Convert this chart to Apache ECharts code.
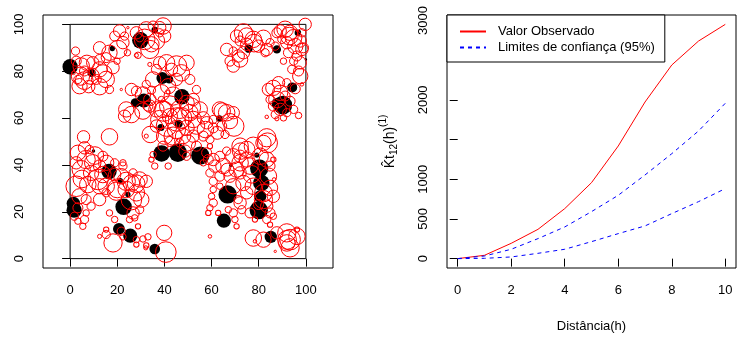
<!DOCTYPE html>
<html><head><meta charset="utf-8">
<script src="https://cdn.jsdelivr.net/npm/echarts@6/dist/echarts.min.js"></script>
<style>html,body{margin:0;padding:0;background:#fff}#c{width:737px;height:342px}</style>
</head><body><div id="c"></div>
<script>
// Left panel: points [x, y, radius] (radius in data units, before SIZE_SCALE correction)
const blackPoints = [
[0,81.9,2.6],[9.1,79.3,1.4],[17.9,89.7,0.9],[29.8,93.2,2.8],[35.9,97.6,1.1],[39.1,77.1,2.0],[42.0,76.5,1.4],
[31.3,67.5,2.4],[27.7,66.5,1.6],[47.4,69.1,2.6],[38.5,56.0,1.2],[46.0,57.5,1.4],[38.8,44.9,2.8],[45.7,45.2,3.1],
[55.2,44.0,3.1],[63.3,59.8,1.1],[66.8,27.4,3.1],[65.2,16.2,2.4],[80.2,38.5,3.1],[81.1,32.3,2.8],[80.0,20.7,3.1],
[85.1,9.3,2.1],[80.6,26.6,2.1],[94.2,73.1,1.7],[90.2,65.5,3.2],[87.9,66.2,2.0],[87.7,89.3,1.4],[75.7,89.6,1.4],
[96.6,96.4,1.1],[1.4,23.5,2.3],[1.7,20.7,2.6],[16.5,37.2,2.6],[22.7,22.1,2.8],[20.7,12.7,2.0],[25.5,9.8,2.4],
[35.9,4.1,1.8],[21.3,33.3,0.9],[24.5,27.4,0.9],[9.9,45.9,0.6],[79.2,44.2,0.9],[68.2,39.9,0.6],[100,85,0.4]
];
const redPoints = [
// top-left cluster
[2.3,88.6,1.4],[2.6,84.3,1.7],[4.7,82.2,2.8],[7.1,83.6,2.6],[9.6,83.6,2.1],[4.4,77.9,3.1],[8.9,77.9,2.8],
[12.5,80.8,2.6],[15.3,76.5,2.8],[4.0,73.6,2.6],[7.9,73.4,2.1],[12.5,73.4,2.8],[3.3,76.5,1.4],[6.1,80.1,1.7],
[12.5,85.0,1.7],[15.3,85.8,1.7],[18.2,81.5,2.1],[16.7,87.9,2.6],[20.3,89.3,3.1],[22.4,92.2,2.1],[12.5,90.0,2.1],
[18.9,95.0,1.7],[21.0,97.2,2.1],[23.1,95.0,1.4],[24.5,98.6,0.4],[24.3,87.9,1.1],[28.8,86.8,1.1],[19.9,84.3,1.1],
[1.4,79.3,0.6],[11.1,76.5,1.7],[16.7,72.2,1.4],[6.0,76.0,3.0],[14.0,79.0,3.0],
// top cluster
[28.1,96.4,2.1],[32.3,97.9,2.6],[35.2,99.3,1.7],[38.0,98.6,2.1],[39.4,99.3,2.8],[31.6,93.6,3.5],[34.5,91.5,2.6],
[36.6,92.9,2.8],[33.8,89.3,3.1],[40.1,95.0,2.1],[38.0,96.4,1.4],[29.5,94.3,1.4],[28.1,86.8,0.7],
// upper-centre cluster
[38.0,83.6,2.1],[40.9,83.6,2.8],[45.1,82.2,3.5],[49.4,83.6,2.6],[47.2,79.3,2.8],[43.0,80.8,2.1],[36.6,80.8,1.7],
[35.2,76.5,2.6],[41.6,73.6,2.6],[45.1,76.5,2.1],[50.8,76.5,1.7],[38.7,70.8,2.8],[43.7,69.4,3.1],[49.4,66.5,2.6],
[52.2,67.9,2.1],[53.6,72.2,1.4],[34.5,71.9,1.4],[30.9,70.1,2.6],[28.1,71.5,1.7],[26.0,72.2,2.1],[32.3,74.4,1.4],
[33.8,67.9,2.1],[21.7,72.2,0.4],[23.8,63.7,2.6],[26.0,61.5,2.8],[23.1,60.8,2.1],[30.9,63.0,2.8],[33.8,65.1,2.1],
[33.8,82.9,0.7],[41.6,71.1,0.7],[38.7,67.9,1.1],
// centre cluster
[36.6,63.7,2.6],[39.4,63.7,2.8],[42.3,65.1,3.5],[46.5,63.7,3.1],[50.8,62.3,2.8],[55.0,63.7,2.6],[38.0,59.4,3.1],
[42.3,60.8,2.6],[47.2,60.1,3.5],[52.2,59.4,2.8],[56.5,60.1,2.1],[36.6,56.6,2.1],[40.9,56.6,3.5],[45.1,55.1,3.1],
[49.4,55.8,2.6],[53.6,56.6,2.8],[57.9,58.0,2.1],[60.7,55.8,1.7],[40.1,52.3,2.8],[43.7,52.3,3.1],[47.9,52.3,2.6],
[52.2,52.3,2.1],[56.5,52.3,1.7],[59.3,50.9,1.4],[63.5,63.7,2.6],[66.4,62.3,2.8],[69.2,62.3,2.1],[67.8,58.7,2.6],
[64.3,56.6,1.7],[60.7,59.4,1.4],[65.7,53.0,1.4],[39.4,48.0,1.7],[35.2,44.4,1.1],[35.9,39.5,1.1],[41.6,39.5,1.1],
[34.5,42.3,0.9],[59.3,48.0,0.9],[56.5,40.9,1.1],[58.6,42.3,1.7],[49.4,43.7,1.4],[33.0,65.1,1.7],[32.3,52.3,0.7],
[46.5,49.4,1.4],[53.6,48.0,1.7],[48.7,45.9,2.1],
[39.7,62.9,3.4],[45.4,59.4,4.0],[51.1,64.4,3.4],[64.5,63.0,2.8],[69.5,56.5,3.4],[34.0,53.0,2.8],[57.4,55.1,2.8],
[49.7,49.4,2.8],[62.4,53.7,2.2],[42.3,50.0,1.7],
// left-middle cluster
[5.7,52.0,2.1],[16.7,52.0,2.8],[6.1,47.3,2.1],[8.2,46.6,1.4],[3.3,45.2,2.6],[6.8,42.3,3.1],[9.6,40.9,2.8],
[2.6,40.9,2.1],[4.7,38.0,3.1],[8.9,36.6,2.6],[12.5,39.5,2.1],[15.3,40.9,2.6],[18.9,40.9,1.4],[22.4,40.9,1.1],
[13.9,35.9,2.8],[11.8,33.8,3.5],[7.5,31.6,2.8],[12.5,30.9,2.6],[15.3,30.9,2.8],[18.9,35.9,2.1],[21.7,35.2,2.6],
[23.8,33.0,3.1],[26.0,32.3,2.8],[29.5,33.8,2.6],[32.3,33.0,2.1],[26.7,36.6,1.4],[19.6,28.8,3.1],[23.8,29.5,2.8],
[28.1,28.1,2.8],[30.2,25.2,2.6],[2.6,30.9,3.5],[4.0,26.6,2.6],[6.8,25.2,1.7],[3.3,21.7,1.7],[1.8,18.1,1.4],
[3.3,16.0,1.1],[6.1,16.7,1.4],[5.4,13.8,1.1],[6.8,19.5,1.1],[8.9,22.4,1.4],[12.5,25.2,2.1],[15.3,28.1,1.4],
[26.0,25.2,3.5],[26.7,19.5,2.1],[29.5,20.9,1.4],[16.7,19.5,1.1],[18.9,16.7,1.1],[25.2,16.7,1.1],[27.4,17.4,1.1],
[28.8,13.8,0.9],[22.4,39.5,1.4],[13.9,43.7,1.7],[10.5,44.0,3.0],[20.0,30.0,3.2],[28.0,32.0,3.0],[5.0,34.0,3.0],
// bottom cluster
[18.2,6.7,3.1],[15.3,10.3,1.4],[21.7,11.7,1.4],[22.4,9.3,1.1],[28.1,8.1,1.1],[30.9,8.4,1.1],[33.0,9.3,1.1],
[32.3,5.6,0.9],[39.9,11.0,2.6],[40.6,2.8,3.5],[15.3,12.4,0.9],[12.5,9.5,0.7],[28.1,6.0,0.9],[32.1,4.6,0.7],
// lower-centre cluster
[57.9,45.2,1.7],[60.7,42.3,2.1],[63.5,43.7,1.7],[65.0,39.5,2.6],[61.4,39.5,2.1],[59.3,36.6,1.4],[63.5,35.2,1.7],
[67.8,35.2,2.1],[70.6,38.0,2.6],[72.1,40.9,2.8],[69.2,43.7,2.6],[66.4,45.9,1.4],[60.7,33.0,1.4],[63.5,30.9,1.1],
[60.7,29.5,1.1],[60.0,26.6,1.1],[60.7,23.8,1.4],[59.3,21.7,1.1],[58.6,19.5,0.9],[62.8,19.5,0.9],[67.1,20.9,1.1],
[69.2,19.5,1.4],[69.9,16.7,1.1],[70.6,13.8,0.9],[59.3,9.5,0.6],[71.3,25.2,1.4],[66.7,38.0,2.2],
// right-middle cluster
[72.1,48.0,2.8],[74.9,46.6,2.8],[77.7,48.0,3.1],[82.0,49.4,2.6],[83.4,51.6,3.1],[80.6,43.7,2.8],[74.9,42.3,2.6],
[72.1,43.7,2.1],[76.3,39.5,2.8],[72.1,36.6,2.1],[73.5,32.3,2.6],[69.2,30.9,2.6],[74.9,28.1,2.1],[77.7,30.9,2.8],
[83.4,42.3,2.6],[84.8,39.5,1.7],[84.1,35.2,2.8],[84.8,30.2,2.6],[86.2,26.6,2.1],[82.0,25.2,3.1],[83.4,22.4,2.1],
[79.9,23.1,1.7],[84.8,19.5,1.7],[76.3,19.5,1.7],[72.1,23.8,2.1],[72.8,20.9,1.4],[78.4,16.7,0.9],[83.4,16.7,1.4],
[86.2,18.1,1.1],[84.8,14.5,0.9],[86.2,42.3,0.9],[86.5,33.8,0.6],[83.7,49.4,3.4],[72.3,45.9,2.8],[77.0,36.0,3.0],
[82.0,28.0,3.0],
// bottom-right cluster
[77.7,8.8,2.8],[82.0,8.1,2.6],[87.7,11.0,2.1],[91.9,11.0,3.1],[93.3,8.1,3.5],[96.2,9.5,2.8],[93.3,4.6,3.1],
[91.9,6.7,2.8],[87.0,3.1,0.4],[78.4,7.4,0.6],[96.2,12.4,0.9],[92.0,8.0,3.2],
// top-right cluster
[66.4,89.3,2.1],[69.2,88.6,1.4],[71.3,86.5,2.1],[67.8,84.3,1.7],[69.2,82.2,2.1],[72.1,85.0,2.6],[73.5,87.9,2.1],
[72.1,92.9,1.7],[74.9,95.0,2.8],[74.9,91.5,2.1],[77.7,93.6,2.8],[82.0,94.3,2.6],[79.9,90.7,2.1],[83.4,89.3,2.1],
[84.8,92.2,1.4],[82.7,87.9,1.4],[73.5,96.4,3.1],[70.6,95.0,2.1],[87.7,96.4,1.7],[89.1,97.2,2.1],[91.2,97.9,2.8],
[93.3,96.4,2.6],[94.8,94.3,2.8],[91.9,92.2,2.1],[95.5,90.7,2.6],[97.6,92.9,2.1],[99.7,100,2.1],[98.3,96.4,1.4],
[98.3,89.3,2.1],[96.2,86.5,1.7],[97.6,83.6,2.1],[94.8,84.3,1.4],[94.0,80.8,1.4],[97.6,77.9,2.6],[96.9,80.1,1.7],
[92.6,87.9,1.7],[90.5,84.3,1.1],[89.8,93.6,1.4],[87.0,90.7,1.4],[99.0,90.0,1.7],[78.0,92.0,3.0],[93.0,95.0,3.0],
// right cluster
[84.1,72.2,2.1],[86.2,72.9,2.6],[88.4,75.1,2.1],[89.1,70.8,2.6],[91.2,69.4,1.7],[87.7,67.9,2.8],[84.8,67.9,1.4],
[86.2,65.1,1.7],[89.1,63.7,2.1],[91.9,62.3,1.4],[90.5,60.1,1.1],[87.0,61.5,1.4],[87.7,59.7,0.7],[83.4,60.5,0.6],
[96.9,61.1,1.1],[95.5,72.5,1.7],[91.9,75.1,1.4],[93.3,67.2,1.7],[94.8,63.7,1.4],[98.3,74.4,0.6]
];
const windowFrame = [[0,0],[100,0],[100,100],[0,100],[0,0]];
const leftTicks = [0,20,40,60,80,100];

// Right panel
const distances = [0,1,2,3,4,5,6,7,8,9,10];
const observed = [0,42,193,369,630,957,1419,1973,2439,2741,2951];
const upperLimit = [0,33,118,252,399,592,798,1054,1322,1608,1957];
const lowerLimit = [0,4,21,67,118,214,315,412,567,718,882];
const rightXTicks = [0,2,4,6,8,10];
const rightYTicks = [0,500,1000,1500,2000,2500,3000];
const rightYLabels = [0,500,1000,2000,3000];

const FONT = "'Liberation Sans', Arial, sans-serif";
const LEFT_X = [-11.5, 111.5], LEFT_Y = [-4, 104];
const GRID_W = 290;
const pxPerUnit = GRID_W / (LEFT_X[1] - LEFT_X[0]);
const SIZE_SCALE = 1.25;
const RED = '#FF0000', BLUE = '#0000FF';

const chart = echarts.init(document.getElementById('c'), null, {renderer: 'canvas'});
const axisCommon = {
  axisLine: {show: false},
  splitLine: {show: false},
};
const tickStyle = vals => ({show: true, length: 8, customValues: vals, lineStyle: {color: '#000'}});
const pairs = (xs, ys) => xs.map((x, i) => [x, ys[i]]);
const plain = v => String(v);

chart.setOption({
  animation: false,
  backgroundColor: '#fff',
  textStyle: {fontFamily: FONT},
  grid: [
    {left: 43, top: 15, width: GRID_W, height: 253, show: true, borderColor: '#000', borderWidth: 1, backgroundColor: 'transparent'},
    {left: 447, top: 15, width: 289, height: 253, show: true, borderColor: '#000', borderWidth: 1, backgroundColor: 'transparent'}
  ],
  legend: {
    left: 447, top: 15, orient: 'vertical',
    data: ['Valor Observado', 'Limites de confiança (95%)'],
    itemWidth: 26, itemHeight: 14, itemGap: 3,
    padding: [10, 10, 8, 12],
    borderColor: '#000', borderWidth: 1, borderRadius: 0, backgroundColor: '#fff',
    itemStyle: {opacity: 0},
    textStyle: {fontSize: 13, color: '#000', fontFamily: FONT, padding: [0, 0, 0, 7]}
  },
  xAxis: [
    Object.assign({gridIndex: 0, type: 'value', min: LEFT_X[0], max: LEFT_X[1],
      axisLabel: {customValues: leftTicks, formatter: plain, fontSize: 13, color: '#000', margin: 16, fontFamily: FONT},
      axisTick: tickStyle(leftTicks)}, axisCommon),
    Object.assign({gridIndex: 1, type: 'value', min: -0.4, max: 10.4,
      name: 'Distância(h)', nameLocation: 'middle', nameGap: 52,
      nameTextStyle: {fontSize: 13, color: '#000', fontFamily: FONT},
      axisLabel: {customValues: rightXTicks, formatter: plain, fontSize: 13, color: '#000', margin: 16, fontFamily: FONT},
      axisTick: tickStyle(rightXTicks)}, axisCommon)
  ],
  yAxis: [
    Object.assign({gridIndex: 0, type: 'value', min: LEFT_Y[0], max: LEFT_Y[1],
      axisLabel: {customValues: leftTicks, formatter: plain, rotate: 90, fontSize: 13, color: '#000', margin: 17, fontFamily: FONT},
      axisTick: tickStyle(leftTicks)}, axisCommon),
    Object.assign({gridIndex: 1, type: 'value', min: -118, max: 3069,
      name: '{a|K̂t}{b|12}{a|(h)}{c|(1)}', nameLocation: 'middle', nameRotate: 90, nameGap: 45,
      nameTextStyle: {color: '#000', fontFamily: FONT, rich: {
        a: {fontSize: 14, lineHeight: 24, verticalAlign: 'middle', fontFamily: FONT, color: '#000'},
        b: {fontSize: 10, lineHeight: 24, verticalAlign: 'bottom', fontFamily: FONT, color: '#000', padding: [0,0,3,0]},
        c: {fontSize: 10, lineHeight: 24, verticalAlign: 'top', fontFamily: FONT, color: '#000'}
      }},
      axisLabel: {customValues: rightYLabels, formatter: plain, rotate: 90, fontSize: 13, color: '#000', margin: 17, fontFamily: FONT},
      axisTick: tickStyle(rightYTicks)}, axisCommon)
  ],
  series: [
    {type: 'line', xAxisIndex: 0, yAxisIndex: 0, data: windowFrame, symbol: 'none', silent: true,
      lineStyle: {color: '#000', width: 1}, z: 1},
    {type: 'scatter', xAxisIndex: 0, yAxisIndex: 0, data: blackPoints, symbol: 'circle',
      symbolSize: v => 2 * v[2] * pxPerUnit * SIZE_SCALE, itemStyle: {color: '#000', opacity: 1}, silent: true, z: 2},
    {type: 'scatter', xAxisIndex: 0, yAxisIndex: 0, data: redPoints, symbol: 'circle',
      symbolSize: v => 2 * v[2] * pxPerUnit * SIZE_SCALE,
      itemStyle: {color: 'rgba(0,0,0,0)', borderColor: RED, borderWidth: 1, opacity: 1}, silent: true, z: 3},
    {name: 'Valor Observado', type: 'line', xAxisIndex: 1, yAxisIndex: 1, data: pairs(distances, observed),
      symbol: 'none', lineStyle: {color: RED, width: 1}, itemStyle: {color: RED}, z: 3},
    {name: 'Limites de confiança (95%)', type: 'line', xAxisIndex: 1, yAxisIndex: 1, data: pairs(distances, upperLimit),
      symbol: 'none', lineStyle: {color: BLUE, width: 1, type: [4, 4]}, itemStyle: {color: BLUE}, z: 3},
    {name: 'Limites de confiança (95%)', type: 'line', xAxisIndex: 1, yAxisIndex: 1, data: pairs(distances, lowerLimit),
      symbol: 'none', lineStyle: {color: BLUE, width: 1, type: [4, 4]}, itemStyle: {color: BLUE}, z: 3}
  ]
});
</script></body></html>
